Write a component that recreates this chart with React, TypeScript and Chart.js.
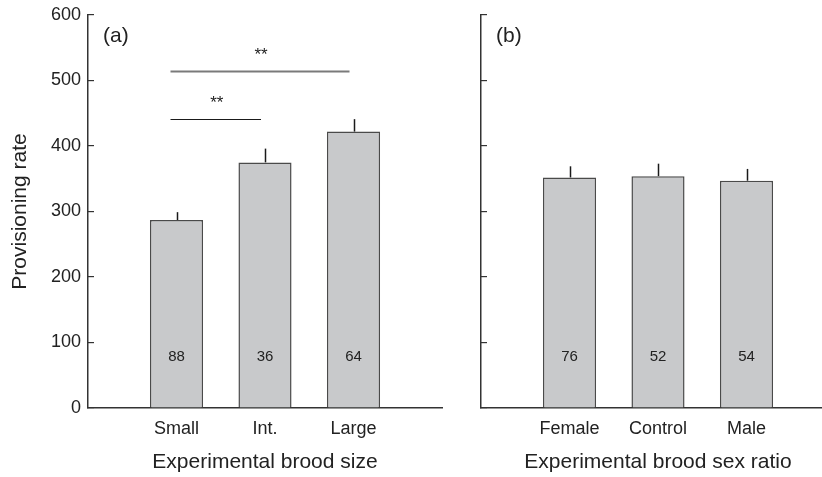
import React, { useEffect, useRef } from 'react';
import { Chart, registerables } from 'chart.js';

Chart.register(...registerables);

const FONT = '"Liberation Sans", Arial, Helvetica, sans-serif';

// ---- Panel (a): experimental brood size ----
const SIZE_CATEGORIES = ['', 'Small', 'Int.', 'Large', ''];
const SIZE_MEANS: (number | null)[] = [null, 287, 375, 422, null];
const SIZE_SE: (number | null)[] = [null, 12, 21, 19, null];
const SIZE_N: (string | null)[] = [null, '88', '36', '64', null];
const SIZE_SIG = [
  { from: 1, to: 3, value: 515, label: '**' },
  { from: 1, to: 2, value: 441, label: '**' },
];

// ---- Panel (b): experimental brood sex ratio ----
const SEX_CATEGORIES = ['', 'Female', 'Control', 'Male', ''];
const SEX_MEANS: (number | null)[] = [null, 352, 354, 347, null];
const SEX_SE: (number | null)[] = [null, 17, 19, 18, null];
const SEX_N: (string | null)[] = [null, '76', '52', '54', null];

// ---- shared axis ----
const Y_MIN = 0;
const Y_MAX = 600;
const Y_STEP = 100;
const N_LABEL_VALUE = 77.5;

const SIG_STYLES = [
  { color: '#7a7a7a', width: 2 },
  { color: '#1a1a1a', width: 1.2 },
];

type Sig = { from: number; to: number; value: number; label: string };

function makeOverlay(se: (number | null)[], ns: (string | null)[], sig: Sig[], panelLabel: string) {
  return {
    id: 'overlay',
    afterDatasetsDraw(chart: any) {
      const ctx = chart.ctx as CanvasRenderingContext2D;
      const meta = chart.getDatasetMeta(0);
      const ys = chart.scales.y;
      const xs = chart.scales.x;
      const data = chart.data.datasets[0].data as (number | null)[];
      ctx.save();
      // error bars
      ctx.strokeStyle = '#1a1a1a';
      ctx.lineWidth = 1.5;
      data.forEach((v, i) => {
        const e = se[i];
        if (v == null || e == null) return;
        const px = Math.round(meta.data[i].x) + 0.5;
        ctx.beginPath();
        ctx.moveTo(px, ys.getPixelForValue(v));
        ctx.lineTo(px, ys.getPixelForValue(v + e));
        ctx.stroke();
      });
      // sample sizes
      ctx.fillStyle = '#222';
      ctx.font = `15px ${FONT}`;
      ctx.textAlign = 'center';
      ctx.textBaseline = 'middle';
      ns.forEach((n, i) => {
        if (!n) return;
        ctx.fillText(n, xs.getPixelForValue(i), ys.getPixelForValue(N_LABEL_VALUE));
      });
      // significance brackets
      sig.forEach((s, k) => {
        const st = SIG_STYLES[k % SIG_STYLES.length];
        const x1 = xs.getPixelForValue(s.from) - 6;
        const x2 = xs.getPixelForValue(s.to) - 4;
        const py = Math.round(ys.getPixelForValue(s.value)) + 0.5;
        ctx.strokeStyle = st.color;
        ctx.lineWidth = st.width;
        ctx.beginPath();
        ctx.moveTo(x1, py);
        ctx.lineTo(x2, py);
        ctx.stroke();
        ctx.fillStyle = '#222';
        ctx.font = `17px ${FONT}`;
        ctx.textAlign = 'center';
        ctx.textBaseline = 'alphabetic';
        ctx.fillText(s.label, (x1 + x2) / 2 + 1, py - 11.5);
      });
      // panel label
      ctx.fillStyle = '#222';
      ctx.font = `21px ${FONT}`;
      ctx.textAlign = 'left';
      ctx.textBaseline = 'alphabetic';
      ctx.fillText(panelLabel, chart.chartArea.left + 15, chart.chartArea.top + 27);
      ctx.restore();
    },
  };
}

type PanelProps = {
  left: number;
  width: number;
  padRight: number;
  axisWidth: number;
  categories: string[];
  means: (number | null)[];
  se: (number | null)[];
  ns: (string | null)[];
  sig: Sig[];
  panelLabel: string;
  xTitle: string;
  yTitle: string | null;
};

function Panel(p: PanelProps) {
  const ref = useRef<HTMLCanvasElement | null>(null);
  useEffect(() => {
    if (!ref.current) return;
    const chart = new Chart(ref.current, {
      type: 'bar',
      data: {
        labels: p.categories,
        datasets: [
          {
            data: p.means as any,
            backgroundColor: '#c8c9cb',
            borderColor: '#4a4a4a',
            borderWidth: 1.5,
            categoryPercentage: 0.8,
            barPercentage: 0.75,
          },
        ],
      },
      options: {
        responsive: false,
        animation: false,
        layout: { padding: { left: 0, right: p.padRight, top: 15, bottom: 0 } },
        plugins: { legend: { display: false }, tooltip: { enabled: false } },
        scales: {
          x: {
            type: 'category',
            offset: false,
            grid: { display: false, drawTicks: false, offset: false },
            border: { display: true, color: '#333', width: 1.5 },
            ticks: {
              color: '#222',
              font: { family: FONT, size: 18 },
              padding: 10,
              maxRotation: 0,
              autoSkip: false,
            },
            title: {
              display: true,
              text: p.xTitle,
              color: '#222',
              font: { family: FONT, size: 21 },
              padding: { top: 0, bottom: 2 },
            },
            afterFit: (scale: any) => {
              scale.height = 69;
              scale.paddingLeft = 0;
              scale.paddingRight = 0;
              scale.paddingTop = 0;
              scale.paddingBottom = 0;
            },
          },
          y: {
            min: Y_MIN,
            max: Y_MAX,
            grid: {
              drawOnChartArea: false,
              drawTicks: true,
              tickLength: -6,
              color: '#333',
              lineWidth: 1.2,
            },
            border: { display: true, color: '#333', width: 1.5 },
            ticks: {
              stepSize: Y_STEP,
              color: '#222',
              font: { family: FONT, size: 18 },
              padding: 13,
              callback: p.yTitle ? (v: any) => String(v) : () => '',
            },
            title: {
              display: !!p.yTitle,
              text: p.yTitle || '',
              color: '#222',
              font: { family: FONT, size: 21 },
              padding: { top: 8, bottom: 0 },
            },
            afterFit: (scale: any) => {
              scale.width = p.axisWidth;
              scale.paddingLeft = 0;
              scale.paddingRight = 0;
              scale.paddingTop = 0;
              scale.paddingBottom = 0;
            },
          },
        },
      } as any,
      plugins: [makeOverlay(p.se, p.ns, p.sig, p.panelLabel)],
    });
    return () => chart.destroy();
  }, []);
  return (
    <div style={{ position: 'absolute', left: p.left, top: 0, width: p.width, height: 477 }}>
      <canvas ref={ref} width={p.width} height={477} style={{ display: 'block' }} />
    </div>
  );
}

export default function App() {
  return (
    <div
      style={{
        position: 'absolute',
        left: 0,
        top: 0,
        width: 822,
        height: 477,
        overflow: 'hidden',
        background: '#ffffff',
      }}
    >
      <Panel
        left={0}
        width={450}
        padRight={8}
        axisWidth={88}
        categories={SIZE_CATEGORIES}
        means={SIZE_MEANS}
        se={SIZE_SE}
        ns={SIZE_N}
        sig={SIZE_SIG}
        panelLabel="(a)"
        xTitle="Experimental brood size"
        yTitle="Provisioning rate"
      />
      <Panel
        left={410}
        width={430}
        padRight={5}
        axisWidth={71}
        categories={SEX_CATEGORIES}
        means={SEX_MEANS}
        se={SEX_SE}
        ns={SEX_N}
        sig={[]}
        panelLabel="(b)"
        xTitle="Experimental brood sex ratio"
        yTitle={null}
      />
    </div>
  );
}
